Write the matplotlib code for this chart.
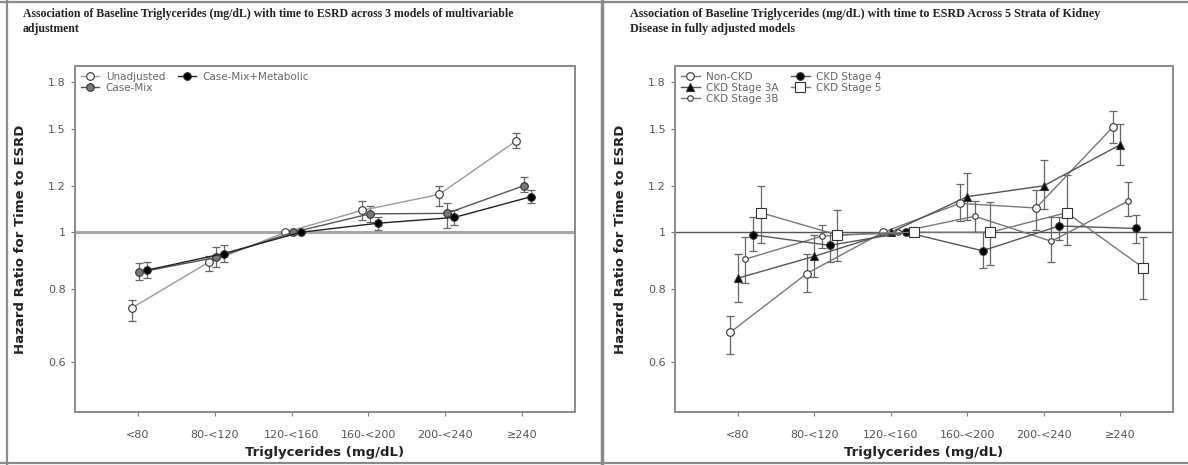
import matplotlib
matplotlib.use("Agg")
import matplotlib.pyplot as plt
from matplotlib.lines import Line2D
from matplotlib.ticker import FixedLocator, NullLocator

# Categories shared by both panels
categories = ["<80", "80-<120", "120-<160", "160-<200", "200-<240", "\u2265240"]
yTicks = [0.6, 0.8, 1.0, 1.2, 1.5, 1.8]
yTickLabels = ["0.6", "0.8", "1", "1.2", "1.5", "1.8"]

# Left panel: 3 models of adjustment (HR, lower CI, upper CI)
unadjHR = [0.743, 0.889, 1.0, 1.09, 1.16, 1.43]
unadjLo = [0.706, 0.858, 1.0, 1.05, 1.11, 1.39]
unadjHi = [0.766, 0.91, 1.0, 1.13, 1.20, 1.475]

caseMixHR = [0.855, 0.906, 1.0, 1.075, 1.077, 1.20]
caseMixLo = [0.83, 0.873, 1.0, 1.04, 1.015, 1.17]
caseMixHi = [0.885, 0.943, 1.0, 1.11, 1.12, 1.24]

metabHR = [0.862, 0.92, 1.0, 1.036, 1.06, 1.15]
metabLo = [0.835, 0.89, 1.0, 1.01, 1.03, 1.12]
metabHi = [0.89, 0.95, 1.0, 1.06, 1.09, 1.18]

# Right panel: 5 strata of kidney disease
nonCkdHR = [0.675, 0.85, 1.0, 1.12, 1.10, 1.51]
nonCkdLo = [0.62, 0.79, 1.0, 1.045, 1.01, 1.42]
nonCkdHi = [0.72, 0.92, 1.0, 1.21, 1.18, 1.61]

ckd3aHR = [0.835, 0.91, 1.0, 1.15, 1.20, 1.41]
ckd3aLo = [0.76, 0.84, 1.0, 1.05, 1.095, 1.30]
ckd3aHi = [0.917, 0.99, 1.0, 1.26, 1.33, 1.53]

ckd3bHR = [0.90, 0.985, 1.0, 1.065, 0.965, 1.13]
ckd3bLo = [0.82, 0.94, 1.0, 1.0, 0.89, 1.065]
ckd3bHi = [0.98, 1.03, 1.0, 1.13, 1.06, 1.22]

ckd4HR = [0.99, 0.95, 1.0, 0.93, 1.025, 1.015]
ckd4Lo = [0.93, 0.89, 1.0, 0.87, 0.97, 0.96]
ckd4Hi = [1.06, 1.0, 1.0, 1.0, 1.06, 1.07]

ckd5HR = [1.08, 0.99, 1.0, 1.0, 1.08, 0.87]
ckd5Lo = [0.96, 0.895, 1.0, 0.88, 0.95, 0.77]
ckd5Hi = [1.20, 1.09, 1.0, 1.125, 1.25, 0.98]


# DESC: plot one series with asymmetric error bars at offset x positions
def PlotSeries(ax, offset, hr, lo, hi, label, marker, face, lineColor, size):
    xs = [i + offset for i in range(len(hr))]
    yerr = [[h - l for h, l in zip(hr, lo)], [u - h for h, u in zip(hr, hi)]]
    ax.errorbar(xs, hr, yerr=yerr, fmt="none", ecolor="#666666", elinewidth=0.9,
                capsize=3, capthick=0.9, zorder=2)
    ax.plot(xs, hr, color=lineColor, linewidth=1.0, marker=marker, markersize=size,
            markerfacecolor=face, markeredgecolor="#333333", markeredgewidth=0.8,
            label=label, zorder=3)


# DESC: common axis styling for both panels
def StyleAxes(ax, refColor, refWidth):
    ax.set_yscale("log")
    ax.set_ylim(0.494, 1.92)
    ax.set_xlim(-0.82, 5.69)
    ax.yaxis.set_major_locator(FixedLocator(yTicks))
    ax.yaxis.set_minor_locator(NullLocator())
    ax.set_yticklabels(yTickLabels)
    ax.set_xticks(range(len(categories)))
    ax.set_xticklabels(categories)
    ax.tick_params(colors="#777777", labelcolor="#555555", labelsize=8, length=3, width=0.8)
    ax.tick_params(axis="x", pad=10)
    for s in ax.spines.values():
        s.set_color("#8a8a8a")
        s.set_linewidth(1.4)
    ax.axhline(1.0, color=refColor, linewidth=refWidth, zorder=1)
    ax.set_ylabel("Hazard Ratio for Time to ESRD", fontsize=9.5, fontweight="bold",
                  color="#222222", labelpad=15)
    ax.set_xlabel("Triglycerides (mg/dL)", fontsize=9.5, fontweight="bold",
                  color="#222222", labelpad=4)


fig = plt.figure(figsize=(11.88, 4.65), dpi=100)

axL = fig.add_axes([0.0631, 0.114, 0.4209, 0.744])
axR = fig.add_axes([0.5682, 0.114, 0.4192, 0.744])

StyleAxes(axL, "#a8a8a8", 2.2)
StyleAxes(axR, "#555555", 1.0)

PlotSeries(axL, -0.08, unadjHR, unadjLo, unadjHi, "Unadjusted", "o", "white", "#9a9a9a", 5.5)
PlotSeries(axL, 0.02, caseMixHR, caseMixLo, caseMixHi, "Case-Mix", "o", "#777777", "#555555", 5.5)
PlotSeries(axL, 0.12, metabHR, metabLo, metabHi, "Case-Mix+Metabolic", "o", "black", "#222222", 5.5)

PlotSeries(axR, -0.1, nonCkdHR, nonCkdLo, nonCkdHi, "Non-CKD", "o", "white", "#777777", 5.5)
PlotSeries(axR, 0.0, ckd3aHR, ckd3aLo, ckd3aHi, "CKD Stage 3A", "^", "black", "#555555", 5.5)
PlotSeries(axR, 0.1, ckd3bHR, ckd3bLo, ckd3bHi, "CKD Stage 3B", "o", "white", "#777777", 4)
PlotSeries(axR, 0.2, ckd4HR, ckd4Lo, ckd4Hi, "CKD Stage 4", "o", "black", "#555555", 5.5)
PlotSeries(axR, 0.3, ckd5HR, ckd5Lo, ckd5Hi, "CKD Stage 5", "s", "white", "#777777", 6.5)

for ax in (axL, axR):
    leg = ax.legend(loc="upper left", ncol=2, frameon=False, fontsize=7.5,
                    handlelength=1.8, borderaxespad=0.15, labelspacing=0.1,
                    columnspacing=1.2, handletextpad=0.6)
    for t in leg.get_texts():
        t.set_color("#666666")

# titles in small bold serif
fig.text(0.019, 0.982, "Association of Baseline Triglycerides (mg/dL) with time to ESRD across 3 models of multivariable\nadjustment",
         fontsize=8.5, fontweight="bold", family="Liberation Serif", va="top", ha="left",
         color="#222222", linespacing=1.25)
fig.text(0.530, 0.982, "Association of Baseline Triglycerides (mg/dL) with time to ESRD Across 5 Strata of Kidney\nDisease in fully adjusted models",
         fontsize=8.7, fontweight="bold", family="Liberation Serif", va="top", ha="left",
         color="#222222", linespacing=1.25)

# outer frame and panel divider
for xy in [([0.006, 0.006], [0.0, 1.0]), ([0.0, 1.0], [0.996, 0.996]),
           ([0.0, 1.0], [0.004, 0.004])]:
    fig.add_artist(Line2D(xy[0], xy[1], color="#8a8a8a", linewidth=1.6))
fig.add_artist(Line2D([0.507, 0.507], [0.0, 1.0], color="#8a8a8a", linewidth=2.5))

fig.savefig("out.png", dpi=100)
